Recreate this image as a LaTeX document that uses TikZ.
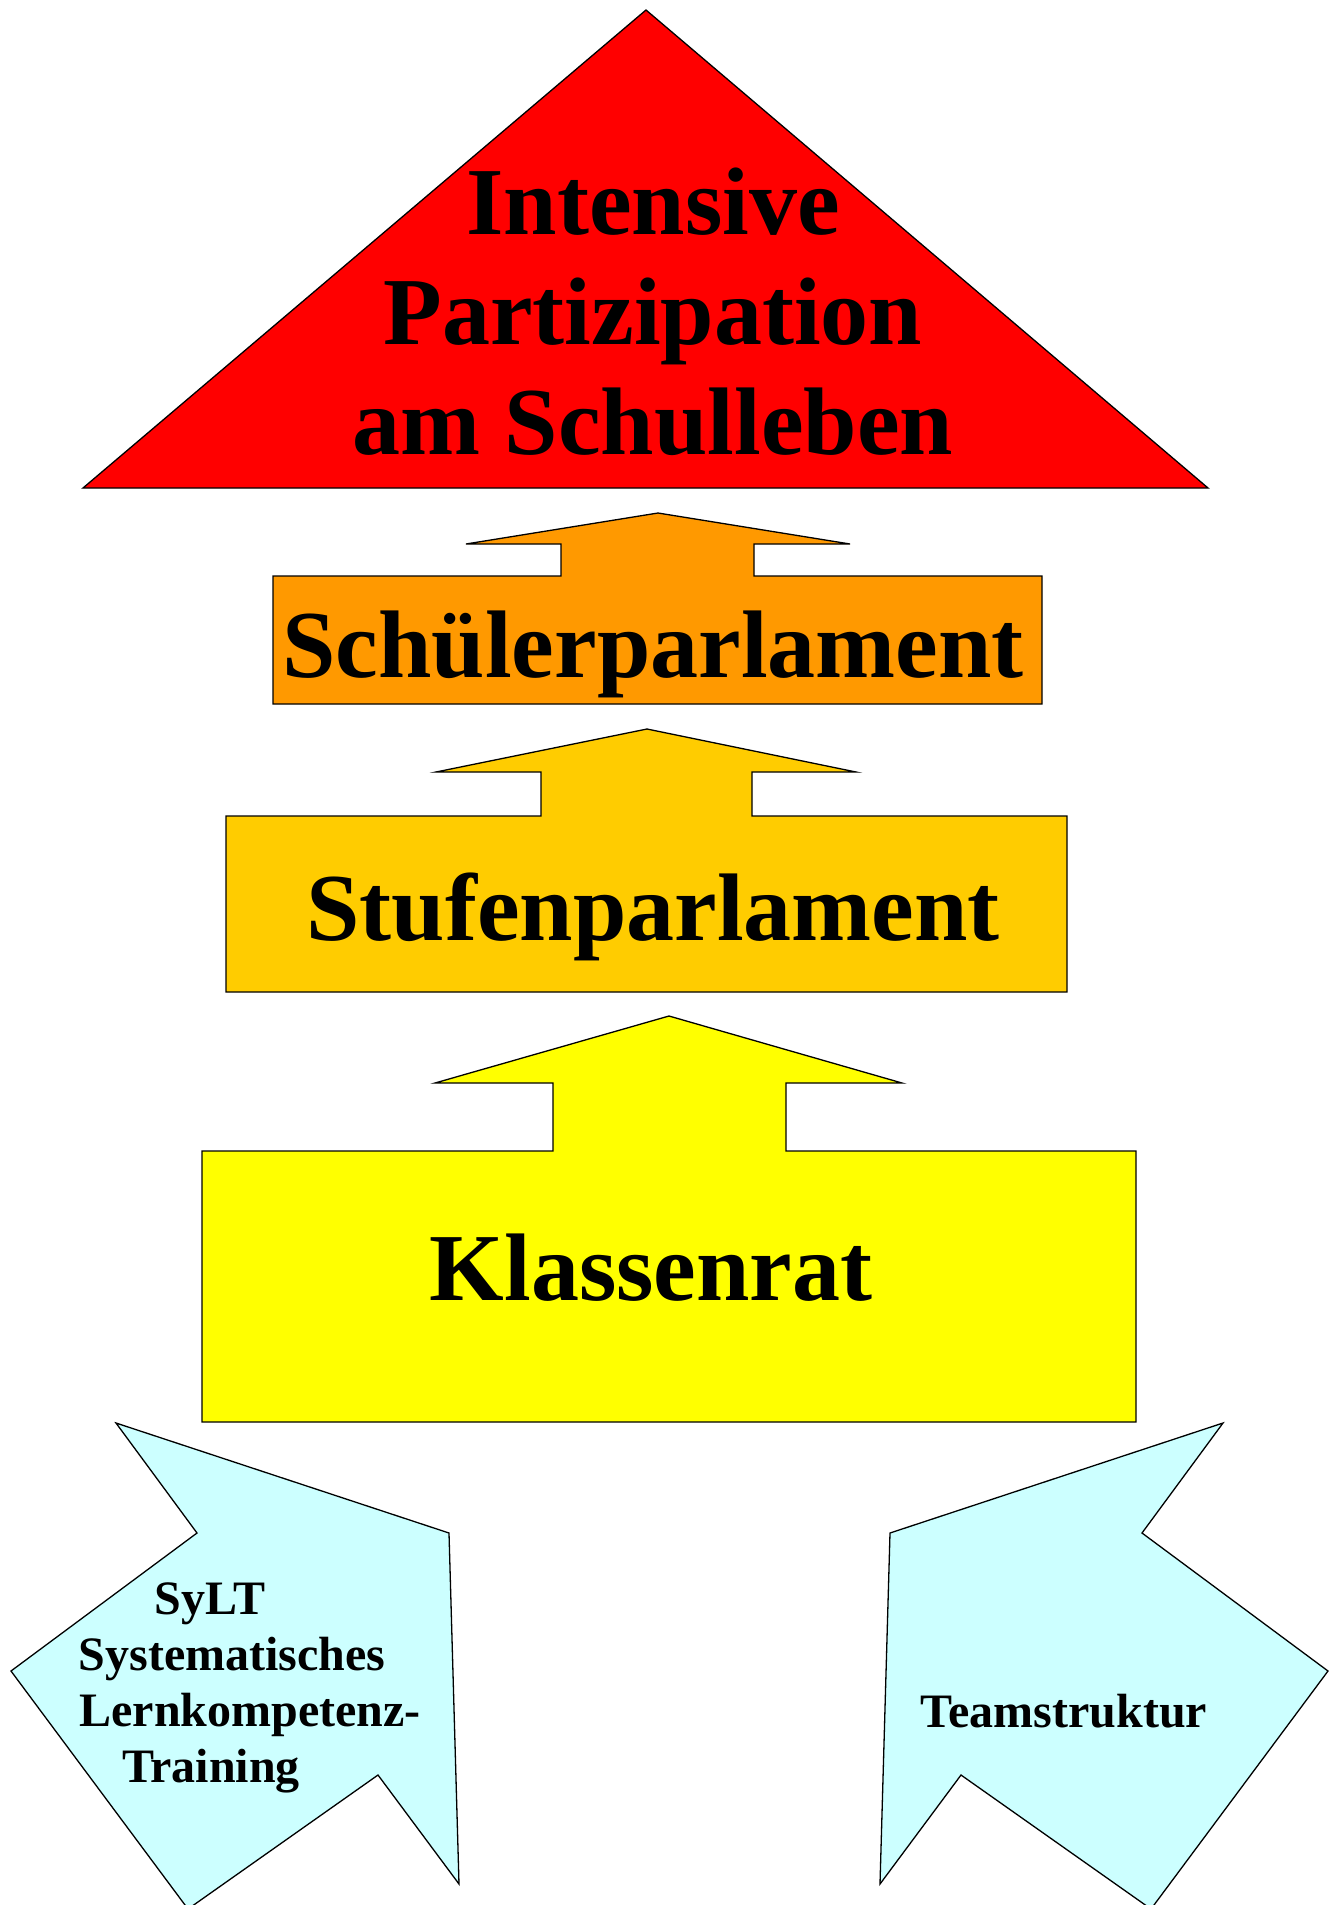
\documentclass[tikz,border=0pt]{standalone}
\usepackage{fontspec}
\setmainfont{Liberation Serif}
\usepackage{tikz}
\definecolor{partirot}{HTML}{FF0000}
\definecolor{schuelerorange}{HTML}{FF9900}
\definecolor{stufengold}{HTML}{FFCC00}
\definecolor{klassengelb}{HTML}{FFFF00}
\definecolor{stuetzecyan}{HTML}{CCFFFF}
\tikzset{
	umriss/.style={
		draw=black,
		line width=1.3pt,
		line join=miter},
	gipfel/.style={umriss, fill=partirot},
	stufe/.style={umriss, fill=#1},
	stuetze/.style={umriss, fill=stuetzecyan},
	grosstext/.style={
		font=\fontsize{96}{110}\selectfont\bfseries,
		inner sep=0pt,
		text centered},
	kleintext/.style={
		font=\fontsize{48}{56}\selectfont\bfseries,
		inner sep=0pt,
		text centered},
}
\begin{document}
\begin{tikzpicture}[x=1pt, y=-1pt]
			\useasboundingbox (0,0) rectangle (1340,1905);
			\clip (0,0) rectangle (1340,1905);
			% Spitze
			\draw[gipfel] (646,10) -- (1208,488) -- (83,488) -- cycle;
			\node[grosstext, align=center] (ziel) at (653,312) {Intensive\\Partizipation\\am Schulleben};
			% Stufen mit Pfeil nach oben
			\draw[stufe=schuelerorange] (658,513) -- (850,544) -- (754,544) -- (754,576) -- (1042,576) -- (1042,704)
				-- (273,704) -- (273,576) -- (561,576) -- (561,544) -- (466,544) -- cycle;
			\node[grosstext, anchor=base] (sp) at (653,677) {Schülerparlament};
			\draw[stufe=stufengold] (647,729) -- (856,772) -- (752,772) -- (752,816) -- (1067,816) -- (1067,992)
				-- (226,992) -- (226,816) -- (541,816) -- (541,772) -- (436,772) -- cycle;
			\node[grosstext, anchor=base] (stp) at (653,940) {Stufenparlament};
			\draw[stufe=klassengelb] (669,1016) -- (902,1083) -- (786,1083) -- (786,1151) -- (1136,1151) -- (1136,1422)
				-- (202,1422) -- (202,1151) -- (553,1151) -- (553,1083) -- (435,1083) -- cycle;
			\node[grosstext, anchor=base] (kr) at (651,1300) {Klassenrat};
			% Stuetzen
			\draw[stuetze] (116,1423) -- (449,1533) -- (459,1884) -- (378,1775) -- (188,1909) -- (11,1671) -- (197,1533) -- cycle;
			\draw[stuetze] (1223,1423) -- (890,1533) -- (880,1884) -- (961,1775) -- (1151,1909) -- (1328,1671) -- (1142,1533) -- cycle;
			\node[kleintext, align=center] (sylt) at (232,1688) {SyLT\hspace*{44pt}\\Systematisches\\\hspace*{36pt}Lernkompetenz-\\Training\hspace*{42pt}};
			\node[kleintext, anchor=base] (team) at (1064,1727) {Teamstruktur};
\end{tikzpicture}
\end{document}
